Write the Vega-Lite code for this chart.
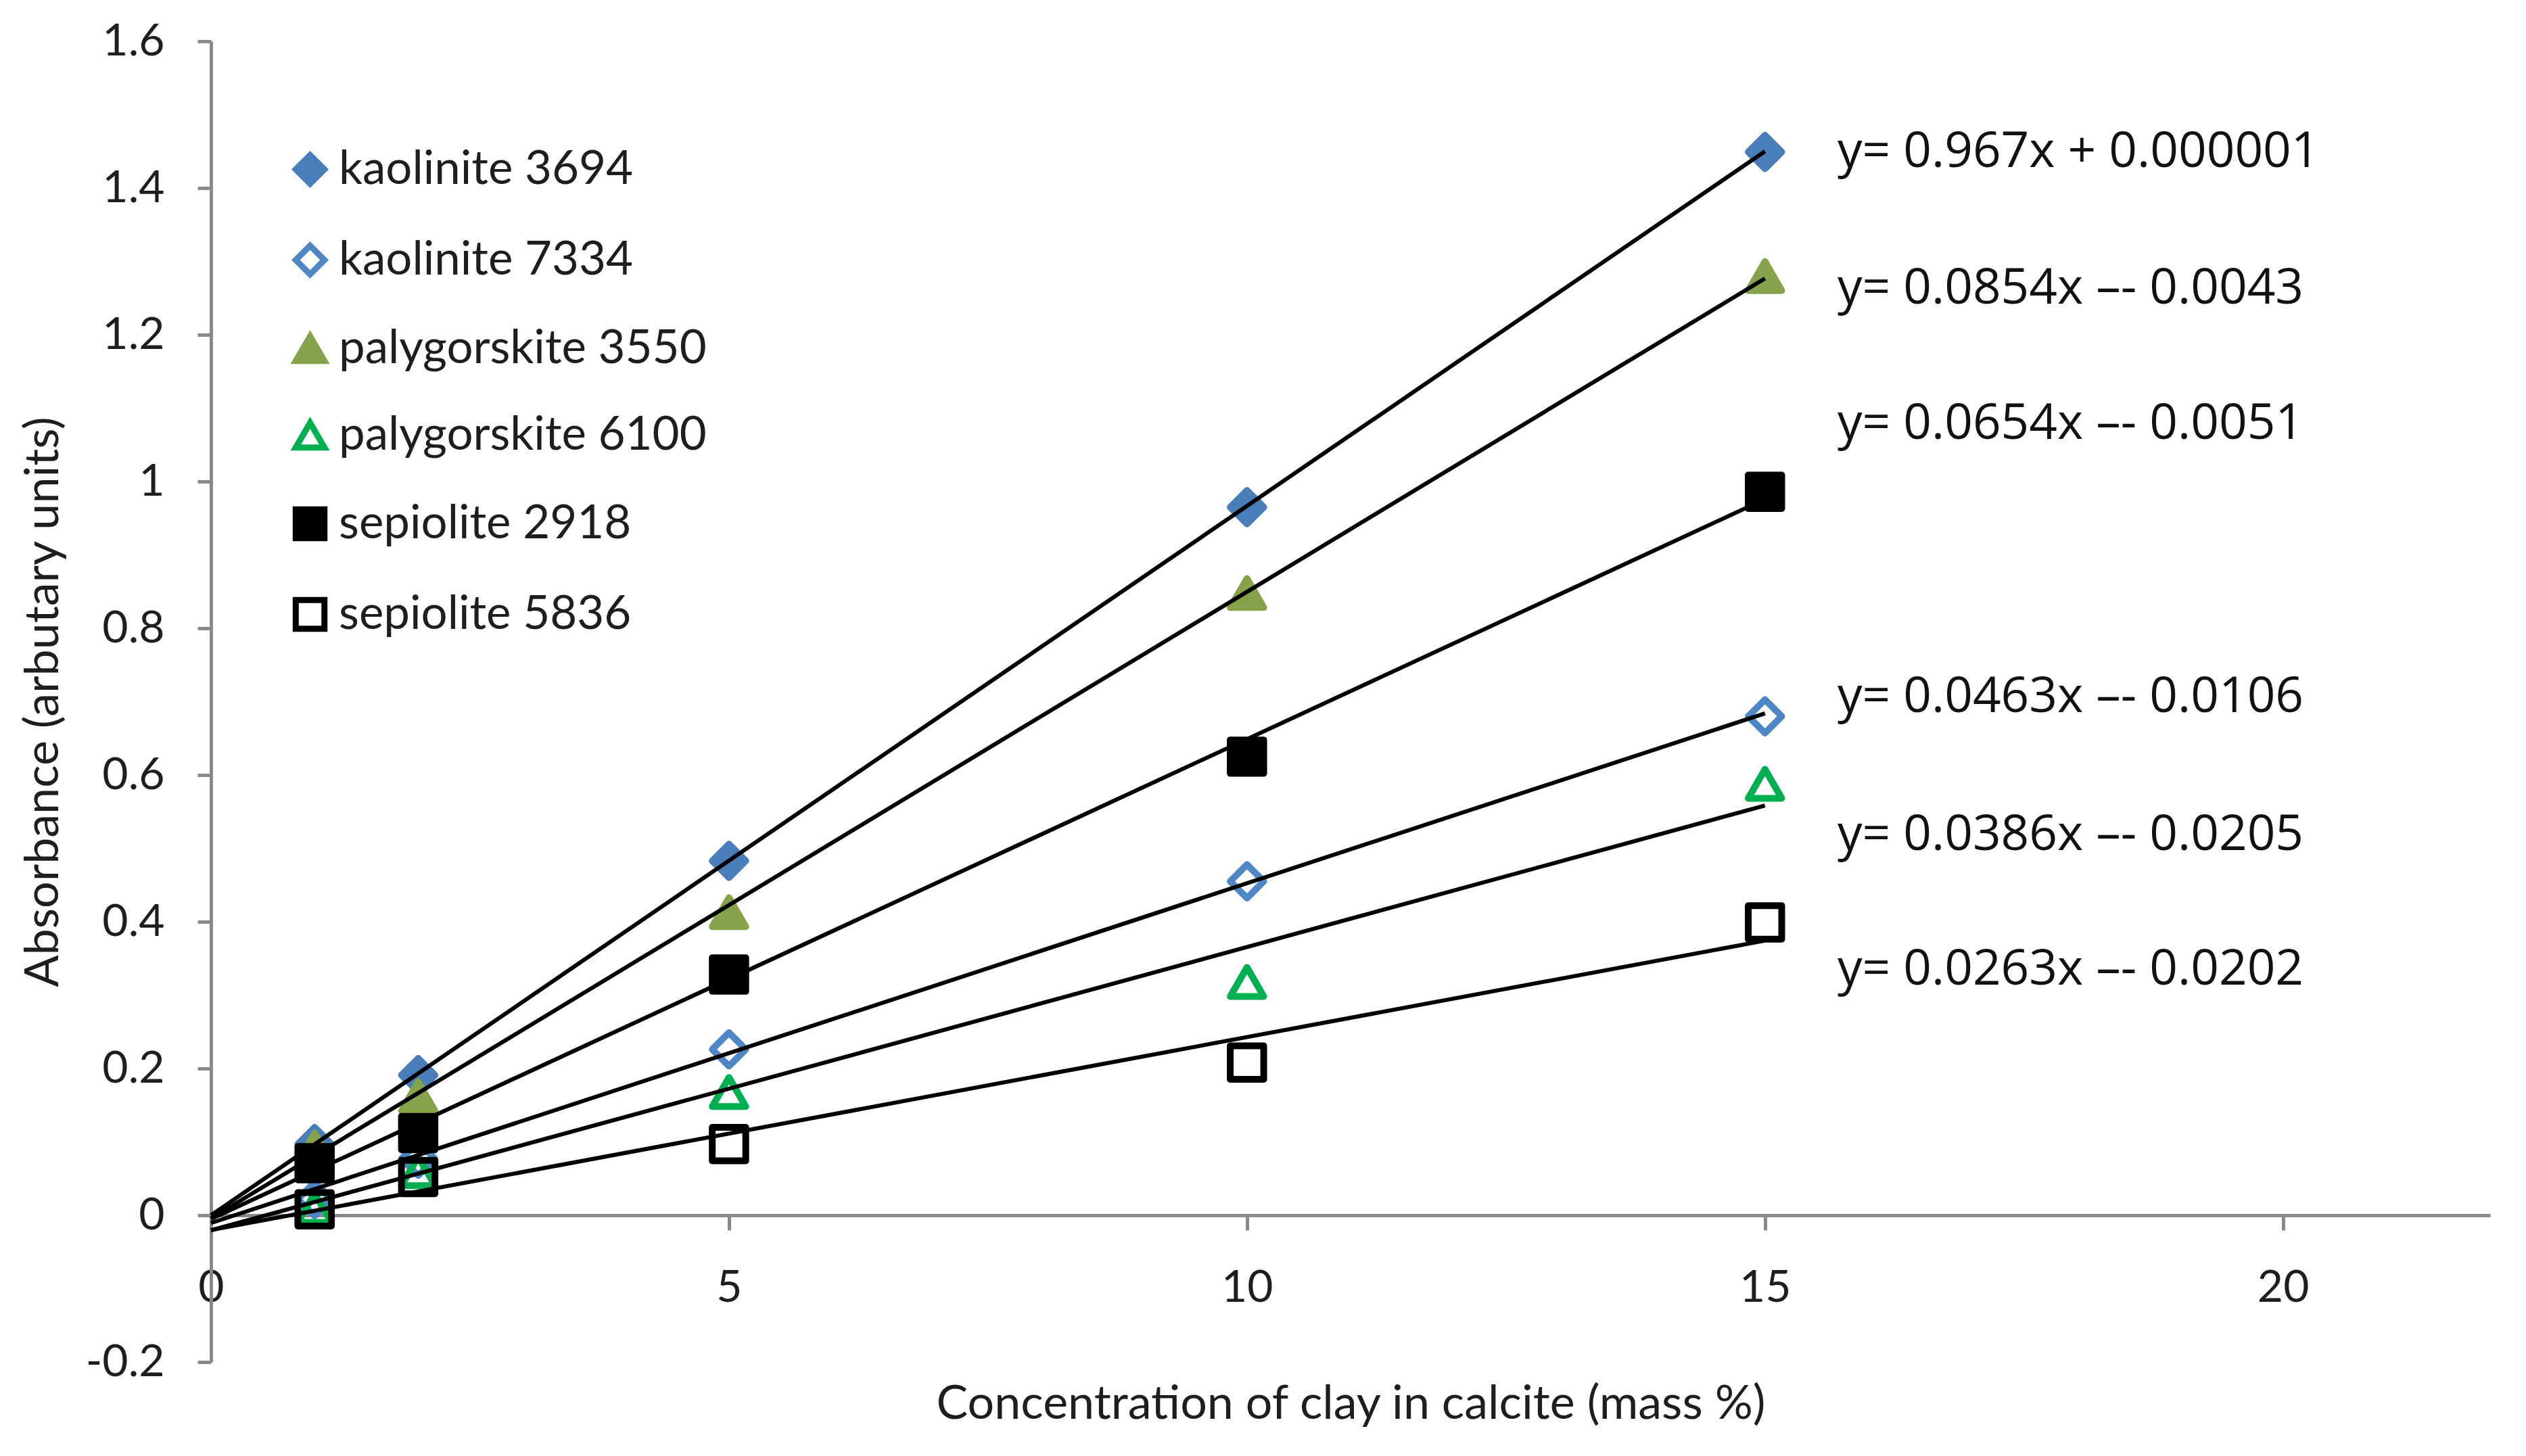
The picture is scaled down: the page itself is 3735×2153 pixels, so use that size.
{
  "$schema": "https://vega.github.io/schema/vega-lite/v6.json",
  "width": 3370,
  "height": 1953,
  "autosize": {"type": "none"},
  "padding": {"left": 312, "top": 61, "right": 53, "bottom": 139},
  "background": "white",
  "config": {
    "view": {"stroke": null},
    "axis": {"grid": false, "domainColor": "#898989", "tickColor": "#898989", "domainWidth": 5, "tickWidth": 5, "labelFont": "Lato", "labelFontSize": 66, "labelColor": "#1e1e1e", "titleFont": "Lato", "titleFontSize": 70, "titleFontWeight": "normal", "titleColor": "#1e1e1e"}
  },
  "datasets": {
    "points": [
      {"series": "kaolinite 3694", "conc": 1, "abs": 0.097},
      {"series": "kaolinite 3694", "conc": 2, "abs": 0.191},
      {"series": "kaolinite 3694", "conc": 5, "abs": 0.483},
      {"series": "kaolinite 3694", "conc": 10, "abs": 0.965},
      {"series": "kaolinite 3694", "conc": 15, "abs": 1.449},
      {"series": "kaolinite 7334", "conc": 1, "abs": 0.022},
      {"series": "kaolinite 7334", "conc": 2, "abs": 0.077},
      {"series": "kaolinite 7334", "conc": 5, "abs": 0.226},
      {"series": "kaolinite 7334", "conc": 10, "abs": 0.455},
      {"series": "kaolinite 7334", "conc": 15, "abs": 0.68},
      {"series": "palygorskite 3550", "conc": 1, "abs": 0.092},
      {"series": "palygorskite 3550", "conc": 2, "abs": 0.162},
      {"series": "palygorskite 3550", "conc": 5, "abs": 0.413},
      {"series": "palygorskite 3550", "conc": 10, "abs": 0.848},
      {"series": "palygorskite 3550", "conc": 15, "abs": 1.28},
      {"series": "palygorskite 6100", "conc": 1, "abs": 0.01},
      {"series": "palygorskite 6100", "conc": 2, "abs": 0.06},
      {"series": "palygorskite 6100", "conc": 5, "abs": 0.168},
      {"series": "palygorskite 6100", "conc": 10, "abs": 0.318},
      {"series": "palygorskite 6100", "conc": 15, "abs": 0.588},
      {"series": "sepiolite 2918", "conc": 1, "abs": 0.071},
      {"series": "sepiolite 2918", "conc": 2, "abs": 0.112},
      {"series": "sepiolite 2918", "conc": 5, "abs": 0.328},
      {"series": "sepiolite 2918", "conc": 10, "abs": 0.625},
      {"series": "sepiolite 2918", "conc": 15, "abs": 0.986},
      {"series": "sepiolite 5836", "conc": 1, "abs": 0.008},
      {"series": "sepiolite 5836", "conc": 2, "abs": 0.052},
      {"series": "sepiolite 5836", "conc": 5, "abs": 0.097},
      {"series": "sepiolite 5836", "conc": 10, "abs": 0.208},
      {"series": "sepiolite 5836", "conc": 15, "abs": 0.399}
    ],
    "fits": [
      {"series": "kaolinite 3694", "conc": 0, "abs": 0.0},
      {"series": "kaolinite 3694", "conc": 15, "abs": 1.45},
      {"series": "palygorskite 3550", "conc": 0, "abs": -0.0043},
      {"series": "palygorskite 3550", "conc": 15, "abs": 1.2767},
      {"series": "sepiolite 2918", "conc": 0, "abs": -0.0051},
      {"series": "sepiolite 2918", "conc": 15, "abs": 0.9759},
      {"series": "kaolinite 7334", "conc": 0, "abs": -0.0106},
      {"series": "kaolinite 7334", "conc": 15, "abs": 0.684},
      {"series": "palygorskite 6100", "conc": 0, "abs": -0.0205},
      {"series": "palygorskite 6100", "conc": 15, "abs": 0.5585},
      {"series": "sepiolite 5836", "conc": 0, "abs": -0.0202},
      {"series": "sepiolite 5836", "conc": 15, "abs": 0.3743}
    ],
    "eqs": [
      {"label": "y= 0.967x + 0.000001", "conc": 15.7, "abs": 1.449},
      {"label": "y= 0.0854x –- 0.0043", "conc": 15.7, "abs": 1.263},
      {"label": "y= 0.0654x –- 0.0051", "conc": 15.7, "abs": 1.078},
      {"label": "y= 0.0463x –- 0.0106", "conc": 15.7, "abs": 0.706},
      {"label": "y= 0.0386x –- 0.0205", "conc": 15.7, "abs": 0.518},
      {"label": "y= 0.0263x –- 0.0202", "conc": 15.7, "abs": 0.335}
    ]
  },
  "layer": [
    {
      "data": {"name": "points"},
      "mark": {"type": "point", "size": 2450, "strokeWidth": 10, "opacity": 1, "strokeJoin": "round"},
      "encoding": {
        "x": {"field": "conc", "type": "quantitative", "scale": {"domain": [0, 22], "nice": false, "zero": false},
              "axis": {"title": "Concentration of clay in calcite (mass %)", "values": [0, 5, 10, 15, 20], "format": "d", "offset": -217, "tickSize": 22, "labelPadding": 53, "titlePadding": 105, "labelFlush": false}},
        "y": {"field": "abs", "type": "quantitative", "scale": {"domain": [-0.2, 1.6], "nice": false, "zero": false},
              "axis": {"title": "Absorbance (arbutary units)", "values": [-0.2, 0, 0.2, 0.4, 0.6, 0.8, 1, 1.2, 1.4, 1.6], "labelExpr": "replace(format(datum.value, '.1~f'), '−', '-')", "tickSize": 20, "labelPadding": 49, "titlePadding": 26, "labelFlush": false}},
        "shape": {"field": "series", "type": "nominal", "title": null,
                  "scale": {"domain": ["kaolinite 3694", "kaolinite 7334", "palygorskite 3550", "palygorskite 6100", "sepiolite 2918", "sepiolite 5836"],
                            "range": ["diamond", "diamond", "triangle-up", "triangle-up", "square", "square"]}},
        "fill": {"field": "series", "type": "nominal", "title": null,
                 "scale": {"domain": ["kaolinite 3694", "kaolinite 7334", "palygorskite 3550", "palygorskite 6100", "sepiolite 2918", "sepiolite 5836"],
                           "range": ["#4A7EBB", "transparent", "#86A34B", "transparent", "#000000", "transparent"]}},
        "stroke": {"field": "series", "type": "nominal", "title": null,
                   "scale": {"domain": ["kaolinite 3694", "kaolinite 7334", "palygorskite 3550", "palygorskite 6100", "sepiolite 2918", "sepiolite 5836"],
                             "range": ["#4A7EBB", "#4F86C6", "#86A34B", "#00B050", "#000000", "#000000"]},
                   "legend": {"orient": "none", "legendX": 112, "legendY": 155, "padding": 0, "labelFont": "Lato", "labelFontSize": 69, "labelColor": "#1e1e1e", "labelLimit": 2000, "symbolSize": 1800, "symbolStrokeWidth": 9, "symbolOpacity": 1, "rowPadding": 55, "labelOffset": 8}}
      }
    },
    {
      "data": {"name": "fits"},
      "mark": {"type": "line", "color": "#000000", "strokeWidth": 6},
      "encoding": {
        "x": {"field": "conc", "type": "quantitative"},
        "y": {"field": "abs", "type": "quantitative"},
        "detail": {"field": "series", "type": "nominal"}
      }
    },
    {
      "data": {"name": "eqs"},
      "mark": {"type": "text", "align": "left", "baseline": "middle", "font": "Open Sans", "fontSize": 73, "color": "#111111"},
      "encoding": {
        "x": {"field": "conc", "type": "quantitative"},
        "y": {"field": "abs", "type": "quantitative"},
        "text": {"field": "label", "type": "nominal"}
      }
    }
  ]
}
